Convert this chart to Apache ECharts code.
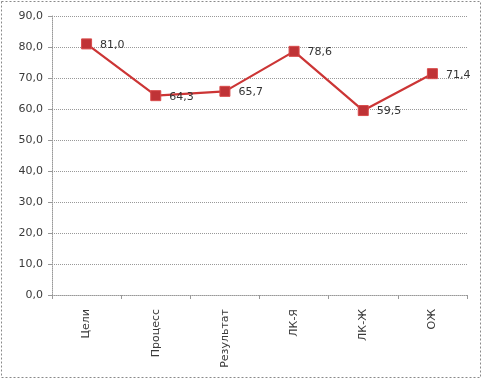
<!DOCTYPE html>
<html><head><meta charset="utf-8">
<script src="https://cdn.jsdelivr.net/npm/echarts@6/dist/echarts.min.js"></script>
<style>html,body{margin:0;padding:0;background:#fff}#c{width:483px;height:380px}</style>
</head><body><div id="c"></div>
<script>
const categories = ['Цели', 'Процесс', 'Результат', 'ЛК-Я', 'ЛК-Ж', 'ОЖ'];
const values = [81.0, 64.3, 65.7, 78.6, 59.5, 71.4];
const yTicks = [0, 10, 20, 30, 40, 50, 60, 70, 80, 90];

const fmt = v => v.toFixed(1).replace('.', ',');
const chart = echarts.init(document.getElementById('c'));
chart.setOption({
  animation: false,
  backgroundColor: '#fff',
  graphic: [{
    type: 'rect', shape: {x: 1.5, y: 1.5, width: 479, height: 376},
    style: {fill: 'none', stroke: '#8a8a8a', lineWidth: 1, lineDash: [2, 2]}
  }],
  grid: {left: 52, right: 16, top: 16, bottom: 85, containLabel: false},
  xAxis: {
    type: 'category', data: categories, boundaryGap: true,
    axisLine: {lineStyle: {color: '#999', type: [1, 1]}},
    axisTick: {show: true, length: 4, lineStyle: {color: '#999'}},
    axisLabel: {rotate: 90, color: '#3a3a3a', fontFamily: 'DejaVu Sans', fontSize: 11, margin: 14}
  },
  yAxis: {
    type: 'value', min: yTicks[0], max: yTicks[yTicks.length - 1], interval: 10,
    axisLine: {show: true, lineStyle: {color: '#999', type: [1, 1]}},
    axisTick: {show: true, length: 4, lineStyle: {color: '#999'}},
    splitLine: {lineStyle: {color: '#999', type: [1, 1]}},
    axisLabel: {color: '#3a3a3a', fontFamily: 'DejaVu Sans', fontSize: 11, margin: 9, formatter: v => fmt(v)}
  },
  series: [{
    type: 'line', data: values,
    symbol: 'rect', symbolSize: 10,
    lineStyle: {color: '#cc3535', width: 2.2},
    itemStyle: {color: '#bf3336', borderColor: '#d84a4a', borderWidth: 1},
    label: {show: true, position: 'right', distance: 8, offset: [0, 1], color: '#333', fontFamily: 'DejaVu Sans', fontSize: 11, formatter: p => fmt(p.value)}
  }]
});
</script></body></html>
